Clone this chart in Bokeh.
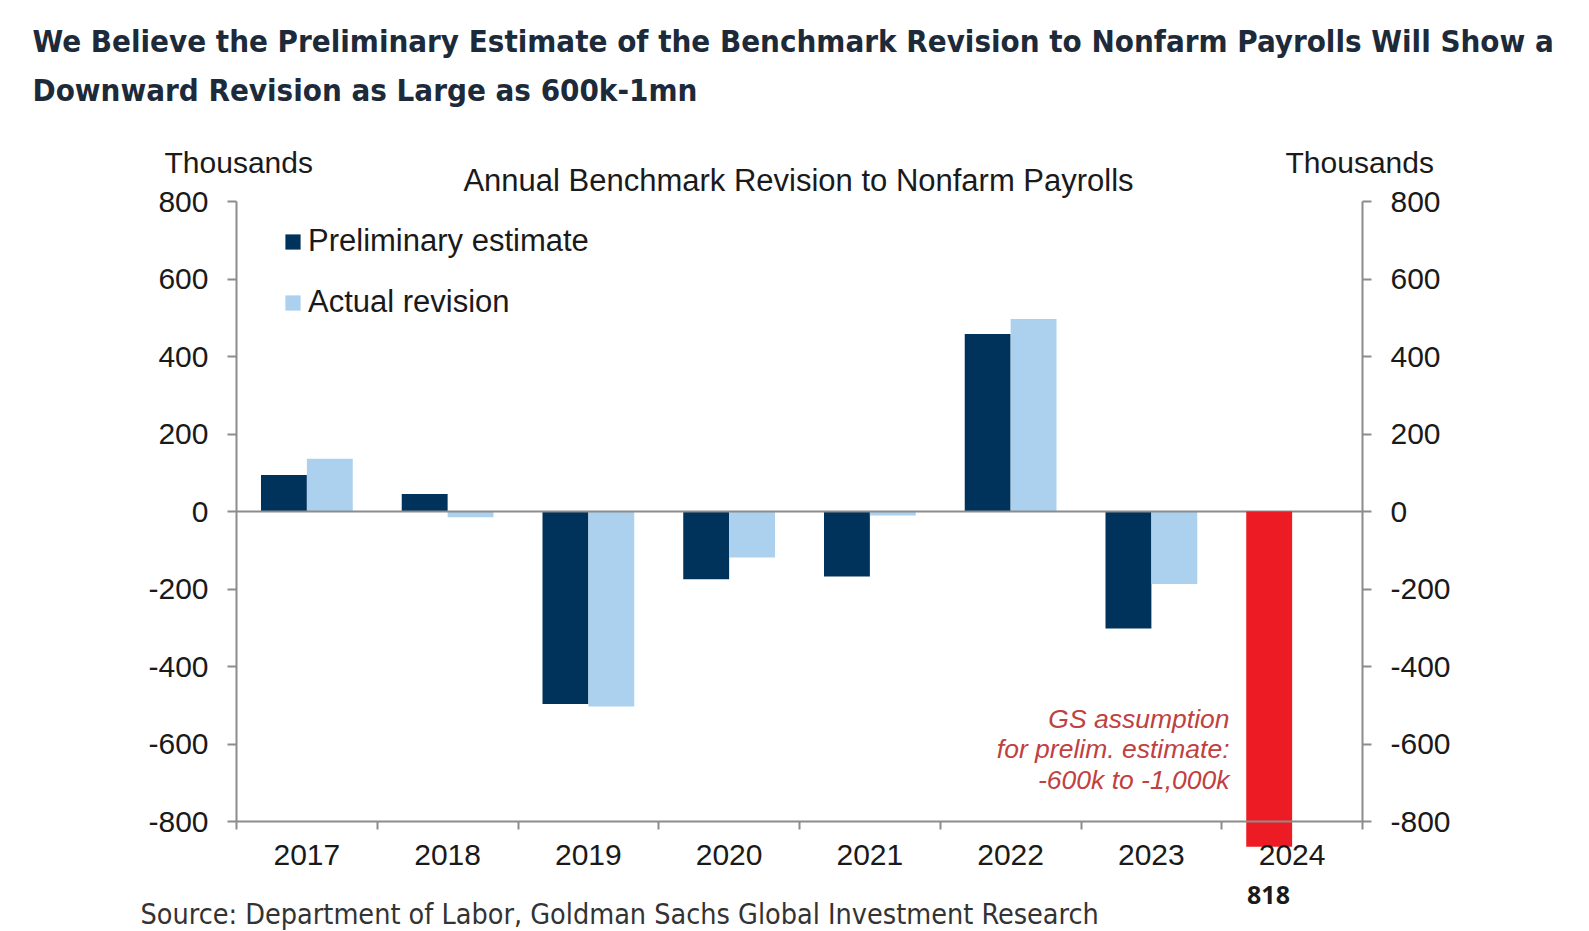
from bokeh.plotting import figure
from bokeh.models import (FixedTicker, Label, Legend, LegendItem, ColumnDataSource, Range1d, LinearAxis)
from bokeh.embed import file_html
from bokeh.resources import INLINE

# ---------------- data ----------------
years = ["2017", "2018", "2019", "2020", "2021", "2022", "2023", "2024"]
bar_years = ["2017", "2018", "2019", "2020", "2021", "2022", "2023"]
preliminary = [94, 45, -497, -175, -168, 458, -302]
actual = [136, -15, -503, -119, -10, 497, -187]
gs_year = "2024"
gs_value = -865
gs_label = "818"
y_ticks = [-800, -600, -400, -200, 0, 200, 400, 600, 800]

title_lines = ["We Believe the Preliminary Estimate of the Benchmark Revision to Nonfarm Payrolls Will Show a",
               "Downward Revision as Large as 600k-1mn"]
subtitle = "Annual Benchmark Revision to Nonfarm Payrolls"
unit_label = "Thousands"
note_lines = ["GS assumption", "for prelim. estimate:", "-600k to -1,000k"]
source_text = "Source: Department of Labor, Goldman Sachs Global Investment Research"

# ---------------- styling ----------------
NAVY = "#00335b"
LIGHT = "#abd1ee"
RED = "#ed1c24"
AXIS = "#8c8c8c"
TXT = "#1a1a1a"
FONT = "Liberation Sans"
NARROW = "'DejaVu Sans Condensed', Roboto, sans-serif"

W, H = 1589, 931
# plot area in pixels: x from 236 to 1362, y value 800 at 201 and -800 at 821
ncat = len(years)
pxc = (1362 - 236) / ncat
pyu = (821 - 201) / 1600.0
x0 = -236 / pxc
x1 = ncat + (W - 1362) / pxc
y1 = 800 + 201 / pyu
y0 = -800 - (H - 821) / pyu

offset = 0.163
bw = 0.326
idx = {y: i for i, y in enumerate(years)}

src_p = ColumnDataSource(dict(x=[idx[y] + 0.5 - offset for y in bar_years], top=preliminary))
src_a = ColumnDataSource(dict(x=[idx[y] + 0.5 + offset for y in bar_years], top=actual))
src_g = ColumnDataSource(dict(x=[idx[gs_year] + 0.5 - offset], top=[gs_value]))

p = figure(width=W, height=H, x_range=Range1d(x0, x1), y_range=Range1d(y0, y1),
           output_backend="svg", toolbar_location=None, min_border=0)
p.grid.visible = False
p.outline_line_color = None
p.background_fill_color = "white"
p.border_fill_color = "white"

r1 = p.vbar(x="x", top="top", bottom=0, width=bw, source=src_p, fill_color=NAVY, line_color=None)
r2 = p.vbar(x="x", top="top", bottom=0, width=bw, source=src_a, fill_color=LIGHT, line_color=None)
p.segment(x0=[0], x1=[ncat], y0=[0], y1=[0], line_color=AXIS, line_width=2)
r3 = p.vbar(x="x", top="top", bottom=0, width=bw, source=src_g, fill_color=RED, line_color=None)

ylabels = {v: str(v) for v in y_ticks}

# y axes (drawn at the edges of the category span)
right = LinearAxis()
p.add_layout(right, "right")
for ax, loc in [(p.yaxis[0], 0), (right, ncat)]:
    ax.fixed_location = loc
    ax.ticker = FixedTicker(ticks=y_ticks, minor_ticks=[])
    ax.major_label_overrides = ylabels
    ax.bounds = (-800, 800)
    ax.axis_line_color = AXIS
    ax.axis_line_width = 2
    ax.major_tick_line_color = AXIS
    ax.major_tick_line_width = 2
    ax.major_tick_out = 9
    ax.major_tick_in = 0
    ax.minor_tick_line_color = None
    ax.major_label_text_font = FONT
    ax.major_label_text_font_size = "30px"
    ax.major_label_text_color = TXT
    ax.major_label_standoff = 19

# x axis
xa = p.xaxis[0]
xa.fixed_location = -800
xa.bounds = (0, ncat)
xa.ticker = FixedTicker(ticks=[i + 0.5 for i in range(ncat)], minor_ticks=list(range(ncat + 1)))
xa.major_label_overrides = {i + 0.5: y for i, y in enumerate(years)}
xa.axis_line_color = AXIS
xa.axis_line_width = 2
xa.major_tick_line_color = None
xa.major_tick_out = 0
xa.major_tick_in = 0
xa.minor_tick_line_color = AXIS
xa.minor_tick_line_width = 2
xa.minor_tick_out = 8
xa.minor_tick_in = 0
xa.major_label_text_font = FONT
xa.major_label_text_font_size = "30px"
xa.major_label_text_color = TXT
xa.major_label_standoff = 15

legend = Legend(items=[LegendItem(label="Preliminary estimate", renderers=[r1]),
                       LegendItem(label="Actual revision", renderers=[r2])],
                location=(283, H - 320), orientation="vertical",
                glyph_width=19, glyph_height=19, label_standoff=6, spacing=25, label_height=34,
                padding=0, margin=0, border_line_alpha=0, background_fill_alpha=0,
                label_text_font=FONT, label_text_font_size="31px", label_text_color=TXT)
p.add_layout(legend)


def lab(text, x, y, size, font=FONT, color=TXT, align="left", style="normal"):
    # x, y: pixel position measured from the top-left corner of the picture
    p.add_layout(Label(x=x, y=H - y, x_units="screen", y_units="screen", text=text,
                       text_font=font, text_font_size=size, text_color=color,
                       text_align=align, text_baseline="middle", text_font_style=style))


lab(title_lines[0], 32, 40, "31px", font=NARROW, color="#1d2a3a", style="bold")
lab(title_lines[1], 32, 89, "31px", font=NARROW, color="#1d2a3a", style="bold")
lab(unit_label, 164, 162, "30px")
lab(unit_label, 1285, 162, "30px")
lab(subtitle, 798, 180, "31px", align="center")
for k, t in enumerate(note_lines):
    lab(t, 1229, 718 + 30.5 * k, "26.5px", color="#c0413f", align="right", style="italic")
lab(gs_label, 1268, 894, "25px", font="Open Sans", color=TXT, align="center", style="bold")
lab(source_text, 140, 914, "28.5px", font=NARROW, color="#333333")

open("out.html", "w").write(file_html(p, INLINE, title="Benchmark revision"))
